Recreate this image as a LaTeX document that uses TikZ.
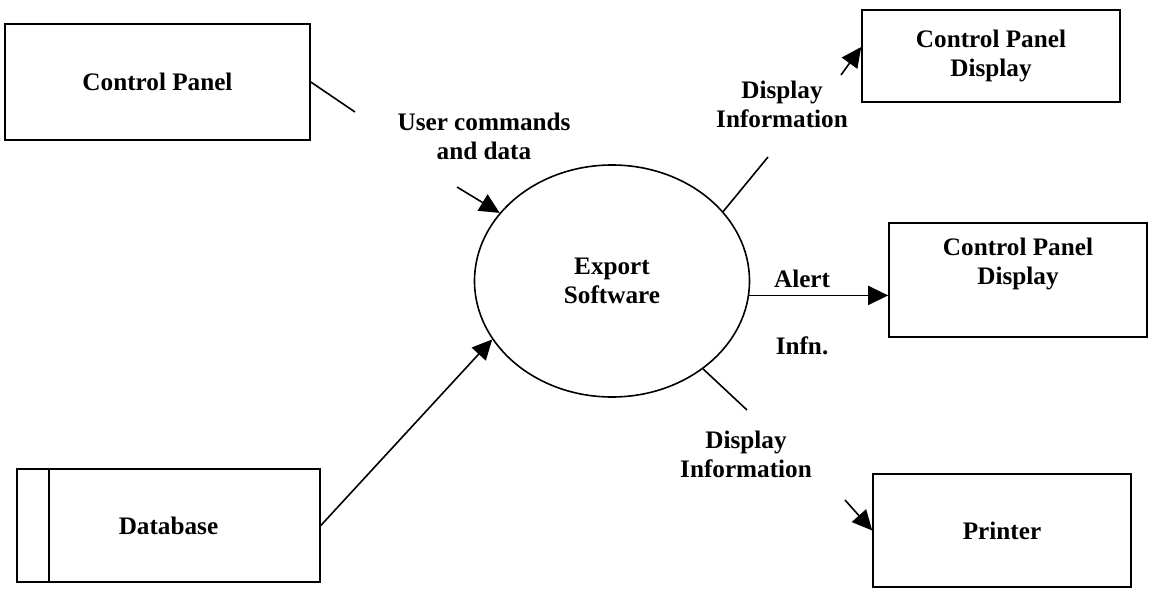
\documentclass[tikz,border=0pt]{standalone}
\usepackage{fontspec}
\setmainfont{Liberation Serif}
\usepackage{tikz}
\usetikzlibrary{shapes.geometric,arrows.meta,positioning}
\tikzstyle{block} = [rectangle, draw, minimum width=129pt, align=center, inner sep=0pt]
\tikzstyle{bubble} = [ellipse, draw, minimum width=137.5pt, minimum height=116pt, align=center, inner sep=0pt]
\tikzstyle{flow} = [align=center]

\begin{document}
\begin{tikzpicture}[>={Triangle[length=10pt,width=9.5pt]}, line width=0.8pt, font=\fontsize{12.6}{14.5}\selectfont\bfseries]
  \useasboundingbox (0pt,0pt) rectangle (578pt,-297pt);
  \draw (78.75pt, -41pt)node[block, minimum width=152.5pt, minimum height=58pt](cp){Control Panel};
  \draw (84.25pt, -262.75pt)node[block, minimum width=151.5pt, minimum height=56.5pt](db){Database};
  \draw (306pt, -140.5pt)node[bubble](exp){Export\\Software};
  \draw (495.5pt, -28pt)node[block, minimum height=46pt](cpd1){Control Panel\\Display};
  \draw (509pt, -140pt)node[block, minimum height=57pt](cpd2){Control Panel\\Display\\\strut};
  \draw (501pt, -265.25pt)node[block, minimum height=56.5pt](prn){Printer};
  \draw ([xshift=16.5pt]db.north west) -- ([xshift=16.5pt]db.south west);
  % flow labels
  \draw (242pt, -68pt)node[flow](l1){User commands\\and data};
  \draw (391pt, -52pt)node[flow](l2){Display\\Information};
  \draw (373pt, -227pt)node[flow](l3){Display\\Information};
  % loose ends of the flows
  \coordinate (c1) at (177.5pt, -56pt);
  \coordinate (c2) at (228.5pt, -93.5pt);
  \coordinate (c3) at (384pt, -78.5pt);
  \coordinate (c4) at (420.5pt, -37.5pt);
  \coordinate (c5) at (373.5pt, -205pt);
  \coordinate (c6) at (422.5pt, -250pt);
  \draw (cp.east) -- (c1);
  \draw[->] (c2) -- (exp);
  \draw[->] (db.east) -- (exp.206);
  \draw (exp.32) -- (c3);
  \draw[->] (c4) -- ([yshift=4.5pt]cpd1.west);
  \path[->] (exp.-6) edge node[pos=0.38, above]{Alert} node[pos=0.38, below=17pt]{Infn.}(exp.-6 -| cpd2.west);
  \draw (exp.-44) -- (c5);
  \draw[->] (c6) -- (prn.west);
\end{tikzpicture}
\end{document}
